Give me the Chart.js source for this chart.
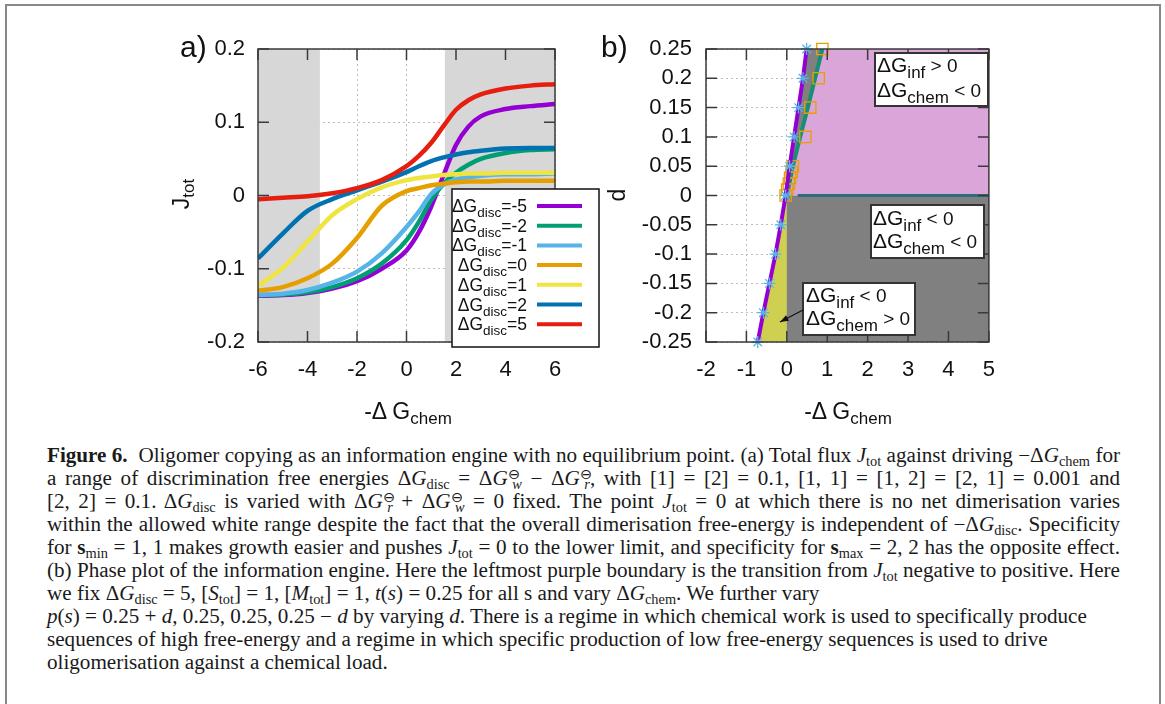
<!DOCTYPE html>
<html>
<head>
<meta charset="utf-8">
<script src="https://cdn.jsdelivr.net/npm/chart.js@4/dist/chart.umd.min.js"></script>
<style>
  body { margin: 0; width: 1165px; height: 704px; overflow: hidden; background: #fff; position: relative; font-family: 'Liberation Sans', Arial, sans-serif; }
  .frame { position: absolute; left: 5px; top: 4px; width: 1152px; height: 760px; border: 2.5px solid #888; }
  canvas { position: absolute; }
  .lbl { position: absolute; color: #111; line-height: 1; white-space: nowrap; }
  .rot { transform: translate(-50%, -50%) rotate(-90deg); }
  .ctr { transform: translate(-50%, -50%); }
  .lbl sub { font-size: 74%; vertical-align: -0.35em; line-height: 0; }
  .cap { position: absolute; left: 47px; top: 444px; font-family: 'Liberation Serif', 'Times New Roman', serif; font-size: 20.5px; color: #1a1a1a; transform-origin: 0 0; }
  .cap .cl { display: block; height: 23px; line-height: 23px; white-space: nowrap; width: max-content; }
  .cap .cl.just { text-align: justify; text-align-last: justify; }
  .cap sub, .cap sup { font-size: 68%; line-height: 0; }
  .cap sub { vertical-align: -0.3em; }
  .cap sup { vertical-align: 0.45em; }
  .cap .bk { margin-left: -0.55em; }
</style>
</head>
<body>
<div class="frame"></div>

<canvas id="chartA" width="460" height="410" style="left:150px; top:20px;"></canvas>
<canvas id="chartB" width="420" height="410" style="left:590px; top:20px;"></canvas>

<div class="lbl" style="left:180px; top:32px; font-size:30px;">a)</div>
<div class="lbl" style="left:601px; top:32px; font-size:30px;">b)</div>
<div class="lbl rot" style="left:181px; top:194px; font-size:23px;">J<sub>tot</sub></div>
<div class="lbl rot" style="left:617px; top:195px; font-size:23px;">d</div>
<div class="lbl ctr" style="left:408px; top:411px; font-size:23px;">-Δ G<sub>chem</sub></div>
<div class="lbl ctr" style="left:848px; top:411px; font-size:23px;">-Δ G<sub>chem</sub></div>

<div class="cap" id="cap">
  <span class="cl just"><b>Figure 6.</b>&nbsp; Oligomer copying as an information engine with no equilibrium point. (a) Total flux <i>J</i><sub>tot</sub> against driving −Δ<i>G</i><sub>chem</sub> for</span>
  <span class="cl just">a range of discrimination free energies Δ<i>G</i><sub>disc</sub> = Δ<i>G</i><sup>⊖</sup><sub class="bk"><i>w</i></sub> − Δ<i>G</i><sup>⊖</sup><sub class="bk"><i>r</i></sub>, with [1] = [2] = 0.1, [1, 1] = [1, 2] = [2, 1] = 0.001 and</span>
  <span class="cl just">[2, 2] = 0.1. Δ<i>G</i><sub>disc</sub> is varied with Δ<i>G</i><sup>⊖</sup><sub class="bk"><i>r</i></sub> + Δ<i>G</i><sup>⊖</sup><sub class="bk"><i>w</i></sub> = 0 fixed. The point <i>J</i><sub>tot</sub> = 0 at which there is no net dimerisation varies</span>
  <span class="cl just">within the allowed white range despite the fact that the overall dimerisation free-energy is independent of −Δ<i>G</i><sub>disc</sub>. Specificity</span>
  <span class="cl just">for <b>s</b><sub>min</sub> = 1, 1 makes growth easier and pushes <i>J</i><sub>tot</sub> = 0 to the lower limit, and specificity for <b>s</b><sub>max</sub> = 2, 2 has the opposite effect.</span>
  <span class="cl just">(b) Phase plot of the information engine. Here the leftmost purple boundary is the transition from <i>J</i><sub>tot</sub> negative to positive. Here</span>
  <span class="cl">we fix Δ<i>G</i><sub>disc</sub> = 5, [<i>S</i><sub>tot</sub>] = 1, [<i>M</i><sub>tot</sub>] = 1, <i>t</i>(<i>s</i>) = 0.25 for all s and vary Δ<i>G</i><sub>chem</sub>. We further vary</span>
  <span class="cl"><i>p</i>(<i>s</i>) = 0.25 + <i>d</i>, 0.25, 0.25, 0.25 − <i>d</i> by varying <i>d</i>. There is a regime in which chemical work is used to specifically produce</span>
  <span class="cl">sequences of high free-energy and a regime in which specific production of low free-energy sequences is used to drive</span>
  <span class="cl">oligomerisation against a chemical load.</span>
</div>

<script>
// ---- panel a data: J_tot vs -dG_chem for several dG_disc
const xChem = [-6, -5, -4, -3, -2, -1, 0, 0.5, 1, 1.5, 2, 2.5, 3, 4, 5, 6];
const discLabels = ['-5', '-2', '-1', '0', '1', '2', '5'];
const discColors = ['#9400d3', '#009e73', '#56b4e9', '#e69f00', '#f0e442', '#0072b2', '#e51e10'];
const jDiscM5 = [-0.137, -0.136, -0.133, -0.127, -0.117, -0.100, -0.075, -0.050, -0.015, 0.028, 0.069, 0.094, 0.108, 0.118, 0.122, 0.125];
const jDiscM2 = [-0.136, -0.135, -0.132, -0.125, -0.113, -0.093, -0.061, -0.036, -0.006, 0.016, 0.031, 0.042, 0.050, 0.058, 0.062, 0.063];
const jDiscM1 = [-0.136, -0.134, -0.129, -0.119, -0.104, -0.079, -0.043, -0.022, 0.002, 0.015, 0.022, 0.025, 0.027, 0.029, 0.029, 0.030];
const jDisc0  = [-0.130, -0.125, -0.113, -0.093, -0.058, -0.014, 0.006, 0.010, 0.014, 0.016, 0.018, 0.019, 0.019, 0.020, 0.020, 0.020];
const jDisc1  = [-0.123, -0.099, -0.063, -0.027, -0.005, 0.011, 0.021, 0.024, 0.026, 0.028, 0.029, 0.030, 0.030, 0.031, 0.031, 0.031];
const jDisc2  = [-0.086, -0.052, -0.021, -0.005, 0.007, 0.019, 0.032, 0.040, 0.047, 0.052, 0.056, 0.059, 0.061, 0.064, 0.065, 0.065];
const jDisc5  = [-0.005, -0.003, -0.001, 0.003, 0.010, 0.021, 0.040, 0.054, 0.072, 0.095, 0.117, 0.130, 0.138, 0.146, 0.150, 0.152];
const jSeries = [jDiscM5, jDiscM2, jDiscM1, jDisc0, jDisc1, jDisc2, jDisc5];
const shadeLeft = [-6, -3.5];
const shadeRight = [1.55, 6];
const ticksA_x = [-6, -4, -2, 0, 2, 4, 6];
const ticksA_y = [-0.2, -0.1, 0, 0.1, 0.2];

// ---- panel b data: phase plot, d vs -dG_chem
const dVals = [-0.25, -0.2, -0.15, -0.1, -0.05, 0, 0.05, 0.1, 0.15, 0.2, 0.25];
const purpleX = [-0.72, -0.58, -0.43, -0.28, -0.15, -0.03, 0.07, 0.18, 0.29, 0.40, 0.49];
const greenD = [0, 0.05, 0.1, 0.15, 0.2, 0.25];
const greenX = [0.0, 0.15, 0.33, 0.52, 0.70, 0.88];
const squareD = [0, 0.01, 0.02, 0.03, 0.04, 0.05, 0.1, 0.15, 0.2, 0.25];
const squareX = [-0.03, 0.01, 0.05, 0.08, 0.12, 0.15, 0.46, 0.58, 0.79, 0.88];
const zeroLineX = [0.27, 5];
const chemZero = 0;
const ticksB_x = [-2, -1, 0, 1, 2, 3, 4, 5];
const ticksB_y = [-0.25, -0.2, -0.15, -0.1, -0.05, 0, 0.05, 0.1, 0.15, 0.2, 0.25];

Chart.defaults.font.family = "'Liberation Sans', Arial, sans-serif";
Chart.defaults.color = '#111';

const tickFont = { size: 22 };
const fmt = v => String(+Number(v).toFixed(2));

// draw text with subscripts: parts = [text, size, dy]
function richWidth(ctx, parts) {
    let w = 0;
    parts.forEach(p => { ctx.font = p[1] + "px 'Liberation Sans', Arial, sans-serif"; w += ctx.measureText(p[0]).width; });
    return w;
}
function drawRich(ctx, parts, x, y, align) {
    let cx = align === 'right' ? x - richWidth(ctx, parts) : x;
    ctx.textBaseline = 'alphabetic';
    ctx.textAlign = 'left';
    parts.forEach(p => {
        ctx.font = p[1] + "px 'Liberation Sans', Arial, sans-serif";
        ctx.fillText(p[0], cx, y + p[2]);
        cx += ctx.measureText(p[0]).width;
    });
}

// gnuplot style frame with inward ticks
function drawFrame(chart, xt, yt) {
    const { ctx, chartArea: a, scales } = chart;
    ctx.save();
    ctx.strokeStyle = '#3a3a3a';
    ctx.lineWidth = 1.5;
    ctx.beginPath();
    xt.forEach(v => {
        const px = scales.x.getPixelForValue(v);
        ctx.moveTo(px, a.bottom); ctx.lineTo(px, a.bottom - 11);
        ctx.moveTo(px, a.top); ctx.lineTo(px, a.top + 11);
    });
    yt.forEach(v => {
        const py = scales.y.getPixelForValue(v);
        ctx.moveTo(a.left, py); ctx.lineTo(a.left + 11, py);
        ctx.moveTo(a.right, py); ctx.lineTo(a.right - 11, py);
    });
    ctx.stroke();
    ctx.strokeRect(a.left, a.top, a.right - a.left, a.bottom - a.top);
    ctx.restore();
}

const panelAPlugin = {
    id: 'panelA',
    beforeDatasetsDraw(chart) {
        const { ctx, chartArea: a, scales } = chart;
        ctx.save();
        ctx.fillStyle = '#d7d7d7';
        [shadeLeft, shadeRight].forEach(r => {
            const x0 = scales.x.getPixelForValue(r[0]);
            const x1 = scales.x.getPixelForValue(r[1]);
            ctx.fillRect(x0, a.top, x1 - x0, a.bottom - a.top);
        });
        ctx.restore();
    },
    afterDatasetsDraw(chart) {
        const { ctx, chartArea: a } = chart;
        drawFrame(chart, ticksA_x, ticksA_y);
        // legend box, partly outside the plot like the original
        ctx.save();
        const bx = a.right - 103, by = a.top + 140, bw = 147, bh = a.bottom + 5 - by;
        ctx.fillStyle = '#fff';
        ctx.fillRect(bx, by, bw, bh);
        ctx.strokeStyle = '#111';
        ctx.lineWidth = 1.5;
        ctx.strokeRect(bx, by, bw, bh);
        ctx.fillStyle = '#111';
        discLabels.forEach((lab, i) => {
            const y = a.top + 157 + i * 19.7;
            drawRich(ctx, [['ΔG', 17.5, 0], ['disc', 13.5, 5], ['=' + lab, 17.5, 0]], a.right - 28, y + 6, 'right');
            ctx.strokeStyle = discColors[i];
            ctx.lineWidth = 4;
            ctx.beginPath();
            ctx.moveTo(a.right - 18, y);
            ctx.lineTo(a.right + 27, y);
            ctx.stroke();
        });
        ctx.restore();
    }
};

new Chart(document.getElementById('chartA'), {
    type: 'line',
    data: {
        datasets: jSeries.map((ys, i) => ({
            label: 'ΔGdisc=' + discLabels[i],
            data: xChem.map((x, k) => ({ x: x, y: ys[k] })),
            borderColor: discColors[i],
            borderWidth: 4.5,
            pointRadius: 0,
            cubicInterpolationMode: 'monotone',
            fill: false,
            order: jSeries.length - i
        }))
    },
    options: {
        responsive: false,
        animation: false,
        devicePixelRatio: 1,
        layout: { padding: { left: 0, top: 29, right: 55, bottom: 0 } },
        plugins: { legend: { display: false }, tooltip: { enabled: false } },
        scales: {
            x: {
                type: 'linear', min: -6, max: 6,
                ticks: { stepSize: 2, font: tickFont, color: '#111', padding: 15, maxRotation: 0, autoSkip: false, callback: fmt },
                grid: { color: '#bdbdbd', lineWidth: 1, drawTicks: false },
                border: { display: false, dash: [2, 3] },
                afterFit(s) { s.height = 88; }
            },
            y: {
                type: 'linear', min: -0.2, max: 0.2,
                ticks: { stepSize: 0.1, font: tickFont, color: '#111', padding: 13, autoSkip: false, callback: fmt },
                grid: { color: '#bdbdbd', lineWidth: 1, drawTicks: false },
                border: { display: false, dash: [2, 3] },
                afterFit(s) { s.width = 108; }
            }
        }
    },
    plugins: [panelAPlugin]
});

// ---- panel b
const purplePts = dVals.map((d, k) => ({ x: purpleX[k], y: d }));
const greenPts = greenD.map((d, k) => ({ x: greenX[k], y: d }));
const purpleUpper = purplePts.filter(p => p.y >= 0);
const purpleLower = purplePts.filter(p => p.y <= 0);
const magentaPoly = greenPts.concat([{ x: 5, y: 0.25 }, { x: 5, y: 0 }]);
const wedgePoly = purpleUpper.concat(greenPts.slice().reverse());
const grayPoly = [{ x: chemZero, y: 0 }, { x: 5, y: 0 }, { x: 5, y: -0.25 }, { x: chemZero, y: -0.25 }];
const yellowPoly = purpleLower.concat([{ x: chemZero, y: 0 }, { x: chemZero, y: -0.25 }]);

function region(pts, color) {
    return { data: pts, backgroundColor: color, borderColor: color, borderWidth: 0.5, pointRadius: 0, fill: 'shape', tension: 0, order: 10 };
}

const boxes = [
    { x: 169, y: 4, w: 113, h: 53, tx: 171, l1: 23, l2: 48, s1: ' > 0', s2: ' < 0' },
    { x: 165, y: 156, w: 113, h: 53, tx: 167, l1: 176, l2: 199, s1: ' < 0', s2: ' < 0' },
    { x: 97, y: 234, w: 112, h: 52, tx: 100, l1: 253, l2: 276, s1: ' < 0', s2: ' > 0' }
];

const panelBPlugin = {
    id: 'panelB',
    afterDatasetsDraw(chart) {
        const { ctx, chartArea: a } = chart;
        drawFrame(chart, ticksB_x, ticksB_y);
        ctx.save();
        boxes.forEach(b => {
            ctx.fillStyle = '#fff';
            ctx.fillRect(a.left + b.x, a.top + b.y, b.w, b.h);
            ctx.strokeStyle = '#333';
            ctx.lineWidth = 2;
            ctx.strokeRect(a.left + b.x, a.top + b.y, b.w, b.h);
            ctx.fillStyle = '#111';
            drawRich(ctx, [['ΔG', 21, 0], ['inf', 17, 6], [b.s1, 19, 0]], a.left + b.tx, a.top + b.l1, 'left');
            drawRich(ctx, [['ΔG', 21, 0], ['chem', 17, 6], [b.s2, 19, 0]], a.left + b.tx, a.top + b.l2, 'left');
        });
        // arrow from the lower box into the yellow region
        const x0 = a.left + 97, y0 = a.top + 261, x1 = a.left + 74, y1 = a.top + 273;
        ctx.strokeStyle = '#111';
        ctx.lineWidth = 1.2;
        ctx.beginPath(); ctx.moveTo(x0, y0); ctx.lineTo(x1, y1); ctx.stroke();
        const ang = Math.atan2(y1 - y0, x1 - x0);
        ctx.fillStyle = '#111';
        ctx.beginPath();
        ctx.moveTo(x1, y1);
        ctx.lineTo(x1 - 9 * Math.cos(ang - 0.35), y1 - 9 * Math.sin(ang - 0.35));
        ctx.lineTo(x1 - 9 * Math.cos(ang + 0.35), y1 - 9 * Math.sin(ang + 0.35));
        ctx.closePath(); ctx.fill();
        ctx.restore();
    }
};

new Chart(document.getElementById('chartB'), {
    type: 'line',
    data: {
        datasets: [
            region(magentaPoly, '#daa6da'),
            region(grayPoly, '#808080'),
            region(wedgePoly, '#808080'),
            region(yellowPoly, '#cfcf52'),
            { data: zeroLineX.map(x => ({ x: x, y: 0 })), borderColor: '#2c6e7c', borderWidth: 3, pointRadius: 0, fill: false, order: 5 },
            { data: greenPts, borderColor: '#178f74', borderWidth: 4, pointRadius: 0, fill: false, order: 4 },
            { data: squareD.map((d, k) => ({ x: squareX[k], y: d })), showLine: false, pointStyle: 'rect', pointRadius: 8,
              pointBackgroundColor: 'rgba(0,0,0,0)', pointBorderColor: '#e69f00', pointBorderWidth: 1.3, clip: false, order: 3 },
            { data: purplePts, borderColor: '#9400d3', borderWidth: 4, pointStyle: 'star', pointRadius: 6,
              pointBorderColor: '#56b4e9', pointBorderWidth: 1.3, fill: false, clip: false, order: 2 }
        ]
    },
    options: {
        responsive: false,
        animation: false,
        devicePixelRatio: 1,
        layout: { padding: { left: 0, top: 29, right: 20, bottom: 0 } },
        plugins: { legend: { display: false }, tooltip: { enabled: false } },
        scales: {
            x: {
                type: 'linear', min: -2, max: 5,
                ticks: { stepSize: 1, font: tickFont, color: '#111', padding: 15, maxRotation: 0, autoSkip: false, callback: fmt },
                grid: { color: '#bdbdbd', lineWidth: 1, drawTicks: false },
                border: { display: false, dash: [2, 3] },
                afterFit(s) { s.height = 88; }
            },
            y: {
                type: 'linear', min: -0.25, max: 0.25,
                ticks: { stepSize: 0.05, font: tickFont, color: '#111', padding: 14, autoSkip: false, maxTicksLimit: 20, callback: fmt },
                grid: { color: '#bdbdbd', lineWidth: 1, drawTicks: false },
                border: { display: false, dash: [2, 3] },
                afterFit(s) { s.width = 116; }
            }
        }
    },
    plugins: [panelBPlugin]
});

// one common horizontal squeeze for the caption; full lines are justified
const cap = document.getElementById('cap');
const fullWidth = 1073;
const lines = Array.from(cap.querySelectorAll('.cl'));
const widest = Math.max(...lines.filter(el => el.classList.contains('just')).map(el => el.getBoundingClientRect().width));
const squeeze = fullWidth / widest;
lines.filter(el => el.classList.contains('just')).forEach(el => { el.style.width = widest + 'px'; });
cap.style.transform = 'scaleX(' + squeeze.toFixed(4) + ')';
</script>
</body>
</html>
